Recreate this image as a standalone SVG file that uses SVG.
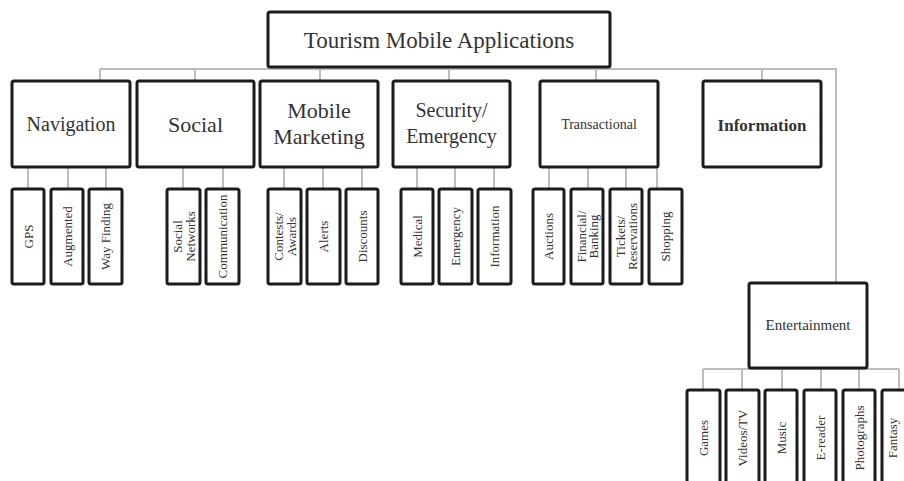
<svg xmlns="http://www.w3.org/2000/svg" width="904" height="481" viewBox="0 0 904 481">
<style>
.box{fill:#fff;stroke:#1c1c1c;stroke-width:3;}
.ln{fill:none;stroke:#bdbdbd;stroke-width:2;}
text{font-family:"Liberation Serif","Times New Roman",serif;fill:#333;text-anchor:middle;}
.t1{font-size:20px;}
.s{font-size:13px;}
</style>
<rect width="904" height="481" fill="#fff"/>
<g id="connectors">
<path class="ln" d="M100,69 H836 V283 M100,69 V81 M195,69 V81 M320,69 V81 M449,69 V81 M596,69 V81 M762,69 V81"/>
<path class="ln" d="M28,167 V189 M68,167 V189 M106,167 V189 M183,167 V189 M223,167 V189 M284,167 V189 M323,167 V189 M362,167 V189 M417,167 V189 M455,167 V189 M494,167 V189 M549,167 V189 M588,167 V189 M626,167 V189 M657,167 V189"/>
<path class="ln" d="M703,369 H899 M703,369 V390 M742,369 V390 M782,369 V390 M821,369 V390 M859,369 V390 M899,369 V390"/>
</g>
<g id="root"><rect class="box" x="268" y="12" width="342" height="55" rx="2"/><text x="439" y="48" style="font-size:23px">Tourism Mobile Applications</text></g>
<g id="navigation"><rect class="box" x="12" y="81" width="118" height="86" rx="2"/><text class="t1" x="71" y="131">Navigation</text></g>
<g id="social"><rect class="box" x="137" y="81" width="117" height="86" rx="2"/><text x="195.5" y="132" style="font-size:22px">Social</text></g>
<g id="mobile-marketing"><rect class="box" x="260" y="81" width="118" height="86" rx="2"/><text x="319" y="118" style="font-size:22px">Mobile</text><text x="319" y="144" style="font-size:22px">Marketing</text></g>
<g id="security"><rect class="box" x="393" y="81" width="117" height="86" rx="2"/><text class="t1" x="451.5" y="117">Security/</text><text class="t1" x="451.5" y="143">Emergency</text></g>
<g id="transactional"><rect class="box" x="540" y="81" width="118" height="86" rx="2"/><text x="599" y="129" style="font-size:14px">Transactional</text></g>
<g id="information"><rect class="box" x="703" y="81" width="118" height="86" rx="2"/><text x="762" y="131" style="font-size:17px;font-weight:bold">Information</text></g>
<g id="entertainment"><rect class="box" x="749" y="283" width="118" height="85" rx="2"/><text x="808" y="330" style="font-size:15px">Entertainment</text></g>

<g id="gps"><rect class="box" x="12" y="189" width="32" height="95" rx="2"/><text class="s" transform="translate(28,236.5) rotate(-90)" y="4.5">GPS</text></g>
<g id="augmented"><rect class="box" x="51" y="189" width="32" height="95" rx="2"/><text class="s" transform="translate(67,236.5) rotate(-90)" y="4.5">Augmented</text></g>
<g id="way-finding"><rect class="box" x="89" y="189" width="33" height="95" rx="2"/><text class="s" transform="translate(105.5,236.5) rotate(-90)" y="4.5">Way Finding</text></g>
<g id="social-networks"><rect class="box" x="167" y="189" width="33" height="95" rx="2"/><text class="s" transform="translate(183.5,236.5) rotate(-90)"><tspan x="0" y="-1.5">Social</tspan><tspan x="0" y="11">Networks</tspan></text></g>
<g id="communication"><rect class="box" x="206" y="189" width="33" height="95" rx="2"/><text class="s" transform="translate(222.5,236.5) rotate(-90)" y="4.5">Communication</text></g>
<g id="contests"><rect class="box" x="268" y="189" width="33" height="95" rx="2"/><text class="s" transform="translate(284.5,236.5) rotate(-90)"><tspan x="0" y="-1.5">Contests/</tspan><tspan x="0" y="11">Awards</tspan></text></g>
<g id="alerts"><rect class="box" x="307" y="189" width="33" height="95" rx="2"/><text class="s" transform="translate(323.5,236.5) rotate(-90)" y="4.5">Alerts</text></g>
<g id="discounts"><rect class="box" x="346" y="189" width="32" height="95" rx="2"/><text class="s" transform="translate(362,236.5) rotate(-90)" y="4.5">Discounts</text></g>
<g id="medical"><rect class="box" x="401" y="189" width="32" height="95" rx="2"/><text class="s" transform="translate(417,236.5) rotate(-90)" y="4.5">Medical</text></g>
<g id="emergency"><rect class="box" x="439" y="189" width="33" height="95" rx="2"/><text class="s" transform="translate(455.5,236.5) rotate(-90)" y="4.5">Emergency</text></g>
<g id="information-2"><rect class="box" x="478" y="189" width="33" height="95" rx="2"/><text class="s" transform="translate(494.5,236.5) rotate(-90)" y="4.5">Information</text></g>
<g id="auctions"><rect class="box" x="533" y="189" width="31" height="95" rx="2"/><text class="s" transform="translate(548.5,236.5) rotate(-90)" y="4.5">Auctions</text></g>
<g id="financial"><rect class="box" x="571" y="189" width="32" height="95" rx="2"/><text class="s" transform="translate(587,236.5) rotate(-90)"><tspan x="0" y="-1.5">Financial/</tspan><tspan x="0" y="11">Banking</tspan></text></g>
<g id="tickets"><rect class="box" x="610" y="189" width="32" height="95" rx="2"/><text class="s" transform="translate(626,236.5) rotate(-90)"><tspan x="0" y="-1.5">Tickets/</tspan><tspan x="0" y="11">Reservations</tspan></text></g>
<g id="shopping"><rect class="box" x="649" y="189" width="33" height="95" rx="2"/><text class="s" transform="translate(665.5,236.5) rotate(-90)" y="4.5">Shopping</text></g>

<g id="games"><rect class="box" x="687" y="390" width="33" height="100" rx="2"/><text class="s" transform="translate(703.5,438) rotate(-90)" y="4.5">Games</text></g>
<g id="videos"><rect class="box" x="726" y="390" width="33" height="100" rx="2"/><text class="s" transform="translate(742.5,438) rotate(-90)" y="4.5">Videos/TV</text></g>
<g id="music"><rect class="box" x="765" y="390" width="32" height="100" rx="2"/><text class="s" transform="translate(781,438) rotate(-90)" y="4.5">Music</text></g>
<g id="e-reader"><rect class="box" x="804" y="390" width="32" height="100" rx="2"/><text class="s" transform="translate(820,438) rotate(-90)" y="4.5">E-reader</text></g>
<g id="photographs"><rect class="box" x="843" y="390" width="32" height="100" rx="2"/><text class="s" transform="translate(859,438) rotate(-90)" y="4.5">Photographs</text></g>
<g id="fantasy"><rect class="box" x="882" y="390" width="33" height="100" rx="2"/><text class="s" transform="translate(898.5,438) rotate(-90)" y="-1.5">Fantasy</text></g>
</svg>
